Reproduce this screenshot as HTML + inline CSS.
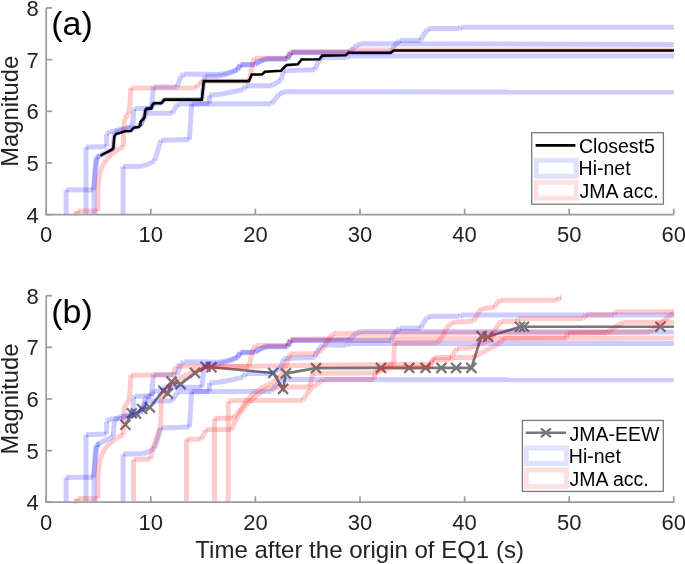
<!DOCTYPE html>
<html><head><meta charset="utf-8"><style>html,body{margin:0;padding:0;background:#fff;}svg{display:block;will-change:transform}.b{stroke:#00f;stroke-opacity:.2;stroke-width:5px}.r{stroke:#f00;stroke-opacity:.2;stroke-width:5px}</style></head><body>
<svg width="685" height="564" viewBox="0 0 685 564" font-family="Liberation Sans, sans-serif" fill="#000">
<rect width="685" height="564" fill="#fff"/>
<g fill="none" stroke-linejoin="miter" stroke-linecap="butt">
<path d="M66.1 214.7L66.1 189.9" class="b"/><path d="M66.1 189.9L93.4 189.9" class="b"/><path d="M93.4 189.9L94.8 178.0" class="b"/><path d="M94.8 178.0L96.0 166.0" class="b"/><path d="M96.0 166.0L97.3 157.5" class="b"/><path d="M97.3 157.5L100.5 155.2" class="b"/><path d="M100.5 155.2L106.0 152.4" class="b"/><path d="M106.0 152.4L111.0 150.2" class="b"/><path d="M111.0 150.2L113.3 148.4" class="b"/><path d="M113.3 148.4L113.9 137.0" class="b"/><path d="M113.9 137.0L115.5 131.5" class="b"/><path d="M115.5 131.5L118.0 129.2" class="b"/><path d="M118.0 129.2L124.0 129.0" class="b"/><path d="M124.0 129.0L126.0 127.5" class="b"/><path d="M126.0 127.5L131.0 127.3" class="b"/><path d="M131.0 127.3L133.0 124.0" class="b"/><path d="M133.0 124.0L133.5 110.0" class="b"/><path d="M133.5 110.0L134.5 108.5" class="b"/><path d="M134.5 108.5L151.0 108.5" class="b"/><path d="M151.0 108.5L152.0 102.5" class="b"/><path d="M152.0 102.5L153.5 87.0" class="b"/><path d="M153.5 87.0L176.7 87.0" class="b"/><path d="M176.7 87.0L178.2 84.0" class="b"/><path d="M178.2 84.0L181.0 76.0" class="b"/><path d="M181.0 76.0L183.8 74.2" class="b"/><path d="M183.8 74.2L205.7 74.2" class="b"/><path d="M205.7 74.2L218.8 74.5" class="b"/><path d="M218.8 74.5L228.2 72.7" class="b"/><path d="M228.2 72.7L237.6 69.5" class="b"/><path d="M237.6 69.5L240.4 64.5" class="b"/><path d="M240.4 64.5L255.0 64.2" class="b"/><path d="M255.0 64.2L258.0 62.0" class="b"/><path d="M258.0 62.0L262.0 60.0" class="b"/><path d="M262.0 60.0L266.0 58.6" class="b"/><path d="M266.0 58.6L287.5 58.6" class="b"/><path d="M287.5 58.6L291.0 52.2" class="b"/><path d="M291.0 52.2L349.0 52.2" class="b"/><path d="M349.0 52.2L353.0 48.6" class="b"/><path d="M353.0 48.6L357.0 45.0" class="b"/><path d="M357.0 45.0L361.3 43.8" class="b"/><path d="M361.3 43.8L673.9 44.4" class="b"/>
<path d="M94.1 214.7L94.1 188.5" class="b"/><path d="M94.1 188.5L94.4 178.0" class="b"/><path d="M94.4 178.0L95.2 166.0" class="b"/><path d="M95.2 166.0L96.0 157.5" class="b"/><path d="M96.0 157.5L99.5 155.6" class="b"/>
<path d="M86.0 214.7L86.0 147.2" class="b"/><path d="M86.0 147.2L106.6 146.5" class="b"/><path d="M106.6 146.5L106.6 134.0" class="b"/><path d="M106.6 134.0L110.0 131.5" class="b"/><path d="M110.0 131.5L121.5 131.0" class="b"/><path d="M121.5 131.0L125.0 129.0" class="b"/><path d="M125.0 129.0L134.0 128.0" class="b"/><path d="M134.0 128.0L140.0 125.0" class="b"/><path d="M140.0 125.0L142.5 121.0" class="b"/><path d="M142.5 121.0L145.0 116.0" class="b"/><path d="M145.0 116.0L146.0 113.3" class="b"/><path d="M146.0 113.3L172.5 113.3" class="b"/><path d="M172.5 113.3L174.0 109.6" class="b"/><path d="M174.0 109.6L176.7 105.4" class="b"/><path d="M176.7 105.4L178.2 104.0" class="b"/><path d="M178.2 104.0L271.5 103.7" class="b"/><path d="M271.5 103.7L279.0 94.3" class="b"/><path d="M279.0 94.3L283.7 91.8" class="b"/><path d="M283.7 91.8L673.9 92.1" class="b"/>
<path d="M123.1 214.7L123.1 166.4" class="b"/><path d="M123.1 166.4L142.9 166.2" class="b"/><path d="M142.9 166.2L150.0 163.5" class="b"/><path d="M150.0 163.5L154.0 161.0" class="b"/><path d="M154.0 161.0L156.0 157.0" class="b"/><path d="M156.0 157.0L158.0 150.0" class="b"/><path d="M158.0 150.0L159.5 144.0" class="b"/><path d="M159.5 144.0L161.0 140.3" class="b"/><path d="M161.0 140.3L189.5 139.5" class="b"/><path d="M189.5 139.5L191.6 104.0" class="b"/><path d="M191.6 104.0L209.4 103.5" class="b"/><path d="M209.4 103.5L209.4 95.2" class="b"/><path d="M209.4 95.2L220.7 94.3" class="b"/><path d="M220.7 94.3L232.0 92.0" class="b"/><path d="M232.0 92.0L243.3 89.6" class="b"/><path d="M243.3 89.6L246.0 85.8" class="b"/><path d="M246.0 85.8L271.5 85.8" class="b"/><path d="M271.5 85.8L274.3 84.0" class="b"/><path d="M274.3 84.0L280.9 80.2" class="b"/><path d="M280.9 80.2L283.7 70.8" class="b"/><path d="M283.7 70.8L314.7 69.8" class="b"/><path d="M314.7 69.8L317.5 63.3" class="b"/><path d="M317.5 63.3L322.5 57.0" class="b"/><path d="M322.5 57.0L346.0 57.8" class="b"/><path d="M346.0 57.8L349.0 55.9" class="b"/><path d="M349.0 55.9L673.9 55.9" class="b"/>
<path d="M140.0 126.0L143.4 119.0" class="b"/><path d="M143.4 119.0L145.3 110.5" class="b"/><path d="M145.3 110.5L146.6 108.6" class="b"/><path d="M146.6 108.6L151.3 108.6" class="b"/><path d="M151.3 108.6L152.6 104.6" class="b"/><path d="M152.6 104.6L153.9 103.3" class="b"/><path d="M153.9 103.3L161.5 103.3" class="b"/><path d="M161.5 103.3L164.3 99.6" class="b"/><path d="M164.3 99.6L201.9 99.6" class="b"/><path d="M201.9 99.6L203.8 81.0" class="b"/><path d="M203.8 81.0L205.0 76.2" class="b"/><path d="M205.0 76.2L218.8 76.2" class="b"/><path d="M218.8 76.2L228.2 73.8" class="b"/><path d="M228.2 73.8L237.6 70.0" class="b"/><path d="M237.6 70.0L240.4 65.0" class="b"/><path d="M240.4 65.0L255.0 64.8" class="b"/><path d="M255.0 64.8L258.0 62.6" class="b"/><path d="M258.0 62.6L262.0 60.6" class="b"/><path d="M262.0 60.6L266.0 59.2" class="b"/><path d="M266.0 59.2L287.5 59.2" class="b"/><path d="M287.5 59.2L291.0 52.8" class="b"/><path d="M291.0 52.8L349.0 52.8" class="b"/><path d="M349.0 52.8L391.0 52.8" class="b"/><path d="M391.0 52.8L394.0 46.0" class="b"/><path d="M394.0 46.0L400.0 40.4" class="b"/><path d="M400.0 40.4L420.6 40.4" class="b"/><path d="M420.6 40.4L422.6 36.3" class="b"/><path d="M422.6 36.3L427.7 29.2" class="b"/><path d="M427.7 29.2L429.0 28.5" class="b"/><path d="M429.0 28.5L459.2 28.5" class="b"/><path d="M459.2 28.5L461.1 27.2" class="b"/><path d="M461.1 27.2L673.9 27.2" class="b"/>
<path d="M73.5 213.6L77.6 213.6" class="r"/><path d="M77.6 213.6L77.6 211.0" class="r"/><path d="M77.6 211.0L98.0 211.0" class="r"/><path d="M98.0 211.0L98.1 186.0" class="r"/><path d="M98.1 186.0L99.5 174.0" class="r"/><path d="M99.5 174.0L102.2 166.0" class="r"/><path d="M102.2 166.0L106.0 160.0" class="r"/><path d="M106.0 160.0L110.0 155.5" class="r"/><path d="M110.0 155.5L115.0 151.5" class="r"/><path d="M115.0 151.5L120.0 148.5" class="r"/><path d="M120.0 148.5L123.4 147.0" class="r"/><path d="M123.4 147.0L123.5 130.0" class="r"/><path d="M123.5 130.0L124.6 118.5" class="r"/><path d="M124.6 118.5L128.6 114.0" class="r"/><path d="M128.6 114.0L130.0 103.3" class="r"/><path d="M130.0 103.3L130.8 88.0" class="r"/><path d="M130.8 88.0L196.3 88.0" class="r"/><path d="M196.3 88.0L198.1 84.5" class="r"/><path d="M198.1 84.5L202.8 81.3" class="r"/><path d="M202.8 81.3L249.0 81.3" class="r"/><path d="M249.0 81.3L250.8 72.7" class="r"/><path d="M250.8 72.7L253.0 62.0" class="r"/><path d="M253.0 62.0L254.5 58.2" class="r"/><path d="M254.5 58.2L286.5 58.2" class="r"/><path d="M286.5 58.2L290.0 53.0" class="r"/><path d="M290.0 53.0L292.2 51.8" class="r"/><path d="M292.2 51.8L348.5 51.8" class="r"/><path d="M348.5 51.8L350.5 50.0" class="r"/><path d="M350.5 50.0L673.9 50.0" class="r"/>
<path d="M100.4 155.6 L111.4 149.9 L113.3 148.6 L114.3 136.5 L115.9 134.0 L121.3 132.4 L124.8 131.2 L131.0 131.0 L132.8 128.6 L134.6 127.4 L139.0 127.0 L140.4 125.0 L140.6 121.8 L143.4 119.0 L144.6 116.6 L145.3 110.5 L146.6 108.6 L151.3 108.6 L152.6 104.6 L153.9 103.3 L161.5 103.3 L164.3 99.6 L201.9 99.6 L203.8 81.1 L248.9 81.1 L251.7 74.5 L262.0 74.5 L264.9 71.7 L280.9 70.8 L286.5 65.1 L297.8 64.2 L301.6 59.5 L319.4 59.3 L322.2 55.6 L345.7 55.3 L348.6 52.8 L390.9 52.8 L393.7 50.5 L673.9 50.5" stroke="#000" stroke-width="2.6"/>
</g>
<g fill="none" stroke-linejoin="miter" stroke-linecap="butt">
<path d="M125.4 424.8 L131.8 413.2 L136.0 413.5 L142.0 409.0 L149.8 407.4 L163.3 390.8 L167.9 393.5 L171.5 381.6 L180.6 384.1 L195.0 372.9 L205.5 366.8 L211.5 367.3 L273.2 373.0 L283.1 388.9 L285.9 373.4 L316.0 368.1 L381.0 367.9 L409.2 367.9 L425.6 367.9 L441.4 367.9 L456.2 367.9 L471.4 367.9 L481.5 336.0 L488.0 336.8 L520.0 326.8 L524.0 326.8 L660.4 326.8 L673.9 326.8" stroke="#777777" stroke-width="2.6"/>
<path d="M120.4 419.8 L130.4 429.8 M120.4 429.8 L130.4 419.8" stroke="#777777" stroke-width="2.2"/>
<path d="M126.8 408.2 L136.8 418.2 M126.8 418.2 L136.8 408.2" stroke="#777777" stroke-width="2.2"/>
<path d="M131.0 408.5 L141.0 418.5 M131.0 418.5 L141.0 408.5" stroke="#777777" stroke-width="2.2"/>
<path d="M137.0 404.0 L147.0 414.0 M137.0 414.0 L147.0 404.0" stroke="#777777" stroke-width="2.2"/>
<path d="M144.8 402.4 L154.8 412.4 M144.8 412.4 L154.8 402.4" stroke="#777777" stroke-width="2.2"/>
<path d="M158.3 385.8 L168.3 395.8 M158.3 395.8 L168.3 385.8" stroke="#777777" stroke-width="2.2"/>
<path d="M162.9 388.5 L172.9 398.5 M162.9 398.5 L172.9 388.5" stroke="#777777" stroke-width="2.2"/>
<path d="M166.5 376.6 L176.5 386.6 M166.5 386.6 L176.5 376.6" stroke="#777777" stroke-width="2.2"/>
<path d="M175.6 379.1 L185.6 389.1 M175.6 389.1 L185.6 379.1" stroke="#777777" stroke-width="2.2"/>
<path d="M190.0 367.9 L200.0 377.9 M190.0 377.9 L200.0 367.9" stroke="#777777" stroke-width="2.2"/>
<path d="M200.5 361.8 L210.5 371.8 M200.5 371.8 L210.5 361.8" stroke="#777777" stroke-width="2.2"/>
<path d="M206.5 362.3 L216.5 372.3 M206.5 372.3 L216.5 362.3" stroke="#777777" stroke-width="2.2"/>
<path d="M268.2 368.0 L278.2 378.0 M268.2 378.0 L278.2 368.0" stroke="#777777" stroke-width="2.2"/>
<path d="M278.1 383.9 L288.1 393.9 M278.1 393.9 L288.1 383.9" stroke="#777777" stroke-width="2.2"/>
<path d="M280.9 368.4 L290.9 378.4 M280.9 378.4 L290.9 368.4" stroke="#777777" stroke-width="2.2"/>
<path d="M311.0 363.1 L321.0 373.1 M311.0 373.1 L321.0 363.1" stroke="#777777" stroke-width="2.2"/>
<path d="M376.0 362.9 L386.0 372.9 M376.0 372.9 L386.0 362.9" stroke="#777777" stroke-width="2.2"/>
<path d="M404.2 362.9 L414.2 372.9 M404.2 372.9 L414.2 362.9" stroke="#777777" stroke-width="2.2"/>
<path d="M420.6 362.9 L430.6 372.9 M420.6 372.9 L430.6 362.9" stroke="#777777" stroke-width="2.2"/>
<path d="M436.4 362.9 L446.4 372.9 M436.4 372.9 L446.4 362.9" stroke="#777777" stroke-width="2.2"/>
<path d="M451.2 362.9 L461.2 372.9 M451.2 372.9 L461.2 362.9" stroke="#777777" stroke-width="2.2"/>
<path d="M466.4 362.9 L476.4 372.9 M466.4 372.9 L476.4 362.9" stroke="#777777" stroke-width="2.2"/>
<path d="M476.5 331.0 L486.5 341.0 M476.5 341.0 L486.5 331.0" stroke="#777777" stroke-width="2.2"/>
<path d="M483.0 331.8 L493.0 341.8 M483.0 341.8 L493.0 331.8" stroke="#777777" stroke-width="2.2"/>
<path d="M515.0 321.8 L525.0 331.8 M515.0 331.8 L525.0 321.8" stroke="#777777" stroke-width="2.2"/>
<path d="M519.0 321.8 L529.0 331.8 M519.0 331.8 L529.0 321.8" stroke="#777777" stroke-width="2.2"/>
<path d="M655.4 321.8 L665.4 331.8 M655.4 331.8 L665.4 321.8" stroke="#777777" stroke-width="2.2"/>
<path d="M66.1 502.2L66.1 477.4" class="b"/><path d="M66.1 477.4L93.4 477.4" class="b"/><path d="M93.4 477.4L94.8 465.6" class="b"/><path d="M94.8 465.6L96.0 453.6" class="b"/><path d="M96.0 453.6L97.3 445.1" class="b"/><path d="M97.3 445.1L100.5 442.8" class="b"/><path d="M100.5 442.8L106.0 440.0" class="b"/><path d="M106.0 440.0L111.0 437.8" class="b"/><path d="M111.0 437.8L113.3 436.0" class="b"/><path d="M113.3 436.0L113.9 424.6" class="b"/><path d="M113.9 424.6L115.5 419.1" class="b"/><path d="M115.5 419.1L118.0 416.8" class="b"/><path d="M118.0 416.8L124.0 416.6" class="b"/><path d="M124.0 416.6L126.0 415.1" class="b"/><path d="M126.0 415.1L131.0 414.9" class="b"/><path d="M131.0 414.9L133.0 411.6" class="b"/><path d="M133.0 411.6L133.5 397.7" class="b"/><path d="M133.5 397.7L134.5 396.2" class="b"/><path d="M134.5 396.2L151.0 396.2" class="b"/><path d="M151.0 396.2L152.0 390.2" class="b"/><path d="M152.0 390.2L153.5 374.7" class="b"/><path d="M153.5 374.7L176.7 374.7" class="b"/><path d="M176.7 374.7L178.2 371.7" class="b"/><path d="M178.2 371.7L181.0 363.7" class="b"/><path d="M181.0 363.7L183.8 361.9" class="b"/><path d="M183.8 361.9L205.7 361.9" class="b"/><path d="M205.7 361.9L218.8 362.2" class="b"/><path d="M218.8 362.2L228.2 360.4" class="b"/><path d="M228.2 360.4L237.6 357.2" class="b"/><path d="M237.6 357.2L240.4 352.2" class="b"/><path d="M240.4 352.2L255.0 351.9" class="b"/><path d="M255.0 351.9L258.0 349.7" class="b"/><path d="M258.0 349.7L262.0 347.7" class="b"/><path d="M262.0 347.7L266.0 346.3" class="b"/><path d="M266.0 346.3L287.5 346.3" class="b"/><path d="M287.5 346.3L291.0 339.9" class="b"/><path d="M291.0 339.9L349.0 339.9" class="b"/><path d="M349.0 339.9L353.0 336.3" class="b"/><path d="M353.0 336.3L357.0 332.7" class="b"/><path d="M357.0 332.7L361.3 331.5" class="b"/><path d="M361.3 331.5L673.9 332.1" class="b"/>
<path d="M94.1 502.2L94.1 476.0" class="b"/><path d="M94.1 476.0L94.4 465.6" class="b"/><path d="M94.4 465.6L95.2 453.6" class="b"/><path d="M95.2 453.6L96.0 445.1" class="b"/><path d="M96.0 445.1L99.5 443.2" class="b"/>
<path d="M86.0 502.2L86.0 434.8" class="b"/><path d="M86.0 434.8L106.6 434.1" class="b"/><path d="M106.6 434.1L106.6 421.6" class="b"/><path d="M106.6 421.6L110.0 419.1" class="b"/><path d="M110.0 419.1L121.5 418.6" class="b"/><path d="M121.5 418.6L125.0 416.6" class="b"/><path d="M125.0 416.6L134.0 415.6" class="b"/><path d="M134.0 415.6L140.0 412.6" class="b"/><path d="M140.0 412.6L142.5 408.6" class="b"/><path d="M142.5 408.6L145.0 403.6" class="b"/><path d="M145.0 403.6L146.0 400.9" class="b"/><path d="M146.0 400.9L172.5 400.9" class="b"/><path d="M172.5 400.9L174.0 397.3" class="b"/><path d="M174.0 397.3L176.7 393.1" class="b"/><path d="M176.7 393.1L178.2 391.7" class="b"/><path d="M178.2 391.7L271.5 391.4" class="b"/><path d="M271.5 391.4L279.0 382.0" class="b"/><path d="M279.0 382.0L283.7 379.5" class="b"/><path d="M283.7 379.5L673.9 379.8" class="b"/>
<path d="M123.1 502.2L123.1 454.0" class="b"/><path d="M123.1 454.0L142.9 453.8" class="b"/><path d="M142.9 453.8L150.0 451.1" class="b"/><path d="M150.0 451.1L154.0 448.6" class="b"/><path d="M154.0 448.6L156.0 444.6" class="b"/><path d="M156.0 444.6L158.0 437.6" class="b"/><path d="M158.0 437.6L159.5 431.6" class="b"/><path d="M159.5 431.6L161.0 427.9" class="b"/><path d="M161.0 427.9L189.5 427.1" class="b"/><path d="M189.5 427.1L191.6 391.7" class="b"/><path d="M191.6 391.7L209.4 391.2" class="b"/><path d="M209.4 391.2L209.4 382.9" class="b"/><path d="M209.4 382.9L220.7 382.0" class="b"/><path d="M220.7 382.0L232.0 379.7" class="b"/><path d="M232.0 379.7L243.3 377.3" class="b"/><path d="M243.3 377.3L246.0 373.5" class="b"/><path d="M246.0 373.5L271.5 373.5" class="b"/><path d="M271.5 373.5L274.3 371.7" class="b"/><path d="M274.3 371.7L280.9 367.9" class="b"/><path d="M280.9 367.9L283.7 358.5" class="b"/><path d="M283.7 358.5L314.7 357.5" class="b"/><path d="M314.7 357.5L317.5 351.0" class="b"/><path d="M317.5 351.0L322.5 344.7" class="b"/><path d="M322.5 344.7L346.0 345.5" class="b"/><path d="M346.0 345.5L349.0 343.6" class="b"/><path d="M349.0 343.6L673.9 343.6" class="b"/>
<path d="M140.0 413.6L143.4 406.6" class="b"/><path d="M143.4 406.6L145.3 398.2" class="b"/><path d="M145.3 398.2L146.6 396.3" class="b"/><path d="M146.6 396.3L151.3 396.3" class="b"/><path d="M151.3 396.3L152.6 392.3" class="b"/><path d="M152.6 392.3L153.9 391.0" class="b"/><path d="M153.9 391.0L161.5 391.0" class="b"/><path d="M161.5 391.0L164.3 387.3" class="b"/><path d="M164.3 387.3L201.9 387.3" class="b"/><path d="M201.9 387.3L203.8 368.7" class="b"/><path d="M203.8 368.7L205.0 363.9" class="b"/><path d="M205.0 363.9L218.8 363.9" class="b"/><path d="M218.8 363.9L228.2 361.5" class="b"/><path d="M228.2 361.5L237.6 357.7" class="b"/><path d="M237.6 357.7L240.4 352.7" class="b"/><path d="M240.4 352.7L255.0 352.5" class="b"/><path d="M255.0 352.5L258.0 350.3" class="b"/><path d="M258.0 350.3L262.0 348.3" class="b"/><path d="M262.0 348.3L266.0 346.9" class="b"/><path d="M266.0 346.9L287.5 346.9" class="b"/><path d="M287.5 346.9L291.0 340.5" class="b"/><path d="M291.0 340.5L349.0 340.5" class="b"/><path d="M349.0 340.5L391.0 340.5" class="b"/><path d="M391.0 340.5L394.0 333.7" class="b"/><path d="M394.0 333.7L400.0 328.2" class="b"/><path d="M400.0 328.2L420.6 328.2" class="b"/><path d="M420.6 328.2L422.6 324.1" class="b"/><path d="M422.6 324.1L427.7 317.0" class="b"/><path d="M427.7 317.0L429.0 316.3" class="b"/><path d="M429.0 316.3L459.2 316.3" class="b"/><path d="M459.2 316.3L461.1 315.0" class="b"/><path d="M461.1 315.0L673.9 315.0" class="b"/>
<path d="M73.5 501.1L77.6 501.1" class="r"/><path d="M77.6 501.1L77.6 498.5" class="r"/><path d="M77.6 498.5L98.0 498.5" class="r"/><path d="M98.0 498.5L98.1 473.6" class="r"/><path d="M98.1 473.6L99.5 461.6" class="r"/><path d="M99.5 461.6L102.2 453.6" class="r"/><path d="M102.2 453.6L106.0 447.6" class="r"/><path d="M106.0 447.6L110.0 443.1" class="r"/><path d="M110.0 443.1L115.0 439.1" class="r"/><path d="M115.0 439.1L120.0 436.1" class="r"/><path d="M120.0 436.1L123.4 434.6" class="r"/><path d="M123.4 434.6L123.5 417.6" class="r"/><path d="M123.5 417.6L124.6 406.0" class="r"/><path d="M124.6 406.0L128.6 401.6" class="r"/><path d="M128.6 401.6L130.0 391.0" class="r"/><path d="M130.0 391.0L130.8 375.3" class="r"/><path d="M130.8 375.3L173.4 375.0" class="r"/><path d="M173.4 375.0L175.8 366.3" class="r"/><path d="M175.8 366.3L249.0 366.5" class="r"/><path d="M249.0 366.5L250.5 360.0" class="r"/><path d="M250.5 360.0L252.0 352.0" class="r"/><path d="M252.0 352.0L255.5 345.5" class="r"/><path d="M255.5 345.5L287.0 345.5" class="r"/><path d="M287.0 345.5L290.0 339.5" class="r"/><path d="M290.0 339.5L324.0 339.0" class="r"/><path d="M324.0 339.0L673.9 338.0" class="r"/>
<path d="M133.5 502.2L133.5 459.3" class="r"/><path d="M133.5 459.3L150.3 459.3" class="r"/><path d="M150.3 459.3L152.4 450.2" class="r"/><path d="M152.4 450.2L155.2 441.8" class="r"/><path d="M155.2 441.8L157.3 436.2" class="r"/><path d="M157.3 436.2L159.4 429.2" class="r"/><path d="M159.4 429.2L160.8 425.0" class="r"/><path d="M160.8 425.0L161.2 402.0" class="r"/><path d="M161.2 402.0L162.2 394.0" class="r"/><path d="M162.2 394.0L166.0 390.0" class="r"/><path d="M166.0 390.0L172.0 384.0" class="r"/><path d="M172.0 384.0L180.0 378.0" class="r"/><path d="M180.0 378.0L190.0 373.5" class="r"/><path d="M190.0 373.5L200.0 369.5" class="r"/><path d="M200.0 369.5L206.0 367.0" class="r"/><path d="M206.0 367.0L250.0 366.3" class="r"/><path d="M250.0 366.3L300.0 365.5" class="r"/><path d="M300.0 365.5L393.5 364.5" class="r"/><path d="M393.5 364.5L394.5 343.0" class="r"/><path d="M394.5 343.0L437.0 343.0" class="r"/><path d="M437.0 343.0L439.4 340.9" class="r"/><path d="M439.4 340.9L443.8 333.6" class="r"/><path d="M443.8 333.6L446.7 327.7" class="r"/><path d="M446.7 327.7L451.0 323.4" class="r"/><path d="M451.0 323.4L455.5 321.9" class="r"/><path d="M455.5 321.9L473.0 321.2" class="r"/><path d="M473.0 321.2L475.9 317.5" class="r"/><path d="M475.9 317.5L478.8 311.7" class="r"/><path d="M478.8 311.7L481.8 308.8" class="r"/><path d="M481.8 308.8L494.9 307.3" class="r"/><path d="M494.9 307.3L497.0 302.0" class="r"/><path d="M497.0 302.0L500.0 300.2" class="r"/><path d="M500.0 300.2L557.2 300.2" class="r"/><path d="M557.2 300.2L560.0 297.3" class="r"/><path d="M560.0 297.3L561.5 297.3" class="r"/>
<path d="M186.5 502.2L186.5 439.3" class="r"/><path d="M186.5 439.3L200.9 439.3" class="r"/><path d="M200.9 439.3L205.7 431.0" class="r"/><path d="M205.7 431.0L205.7 429.6" class="r"/><path d="M205.7 429.6L231.4 429.6" class="r"/><path d="M231.4 429.6L234.0 424.0" class="r"/><path d="M234.0 424.0L237.0 418.0" class="r"/><path d="M237.0 418.0L242.0 410.0" class="r"/><path d="M242.0 410.0L247.0 404.0" class="r"/><path d="M247.0 404.0L252.5 399.0" class="r"/><path d="M252.5 399.0L258.0 394.5" class="r"/><path d="M258.0 394.5L264.0 390.0" class="r"/><path d="M264.0 390.0L272.0 387.3" class="r"/><path d="M272.0 387.3L309.9 387.0" class="r"/><path d="M309.9 387.0L311.0 380.0" class="r"/><path d="M311.0 380.0L313.0 373.3" class="r"/><path d="M313.0 373.3L374.0 373.1" class="r"/><path d="M374.0 373.1L380.0 369.0" class="r"/><path d="M380.0 369.0L388.0 365.0" class="r"/><path d="M388.0 365.0L395.0 364.3" class="r"/><path d="M395.0 364.3L430.7 364.3" class="r"/><path d="M430.7 364.3L434.0 357.5" class="r"/><path d="M434.0 357.5L451.0 357.5" class="r"/><path d="M451.0 357.5L457.0 348.2" class="r"/><path d="M457.0 348.2L470.0 348.2" class="r"/><path d="M470.0 348.2L480.0 344.0" class="r"/><path d="M480.0 344.0L490.0 340.0" class="r"/><path d="M490.0 340.0L494.0 333.0" class="r"/><path d="M494.0 333.0L497.0 326.0" class="r"/><path d="M497.0 326.0L501.7 321.4" class="r"/><path d="M501.7 321.4L517.0 321.4" class="r"/><path d="M517.0 321.4L518.5 318.6" class="r"/><path d="M518.5 318.6L583.0 318.6" class="r"/><path d="M583.0 318.6L586.0 315.0" class="r"/><path d="M586.0 315.0L590.0 314.7" class="r"/><path d="M590.0 314.7L614.0 314.7" class="r"/><path d="M614.0 314.7L615.0 311.7" class="r"/><path d="M615.0 311.7L673.9 311.7" class="r"/>
<path d="M214.5 502.2L214.5 418.3" class="r"/><path d="M214.5 418.3L233.0 418.3" class="r"/><path d="M233.0 418.3L236.5 414.0" class="r"/><path d="M236.5 414.0L240.5 410.0" class="r"/><path d="M240.5 410.0L244.0 404.0" class="r"/><path d="M244.0 404.0L248.0 399.0" class="r"/><path d="M248.0 399.0L253.0 394.0" class="r"/><path d="M253.0 394.0L258.0 390.0" class="r"/><path d="M258.0 390.0L264.0 386.5" class="r"/><path d="M264.0 386.5L270.0 384.0" class="r"/><path d="M270.0 384.0L275.0 381.0" class="r"/><path d="M275.0 381.0L280.0 377.0" class="r"/><path d="M280.0 377.0L283.0 371.0" class="r"/><path d="M283.0 371.0L286.0 366.0" class="r"/><path d="M286.0 366.0L288.0 360.0" class="r"/><path d="M288.0 360.0L290.0 354.0" class="r"/><path d="M290.0 354.0L315.0 353.8" class="r"/><path d="M315.0 353.8L322.0 350.0" class="r"/><path d="M322.0 350.0L327.0 342.0" class="r"/><path d="M327.0 342.0L333.0 333.5" class="r"/><path d="M333.0 333.5L607.0 332.5" class="r"/><path d="M607.0 332.5L615.0 327.0" class="r"/><path d="M615.0 327.0L623.0 322.3" class="r"/><path d="M623.0 322.3L673.9 322.3" class="r"/>
<path d="M228.2 502.2L228.2 401.5" class="r"/><path d="M228.2 401.5L233.0 400.5" class="r"/><path d="M233.0 400.5L302.9 400.5" class="r"/><path d="M302.9 400.5L306.4 394.7" class="r"/><path d="M306.4 394.7L309.9 390.0" class="r"/><path d="M309.9 390.0L315.0 385.0" class="r"/><path d="M315.0 385.0L320.4 381.9" class="r"/><path d="M320.4 381.9L322.8 379.5" class="r"/><path d="M322.8 379.5L374.0 379.5" class="r"/><path d="M374.0 379.5L375.5 373.0" class="r"/><path d="M375.5 373.0L388.0 368.0" class="r"/><path d="M388.0 368.0L395.0 367.5" class="r"/><path d="M395.0 367.5L430.0 367.5" class="r"/><path d="M430.0 367.5L432.0 359.8" class="r"/><path d="M432.0 359.8L451.0 359.8" class="r"/><path d="M451.0 359.8L454.0 357.5" class="r"/><path d="M454.0 357.5L473.0 357.5" class="r"/><path d="M473.0 357.5L480.0 353.5" class="r"/><path d="M480.0 353.5L490.0 348.5" class="r"/><path d="M490.0 348.5L500.0 343.0" class="r"/><path d="M500.0 343.0L503.0 338.0" class="r"/><path d="M503.0 338.0L566.0 338.0" class="r"/><path d="M566.0 338.0L568.0 333.0" class="r"/><path d="M568.0 333.0L650.0 332.0" class="r"/><path d="M650.0 332.0L662.0 322.0" class="r"/><path d="M662.0 322.0L673.9 313.0" class="r"/>
</g>
<g stroke="#9c9c9c" stroke-width="1.7" fill="none">
<line x1="46.20" y1="214.7" x2="46.20" y2="208.7" />
<line x1="150.80" y1="214.7" x2="150.80" y2="208.7" />
<line x1="255.40" y1="214.7" x2="255.40" y2="208.7" />
<line x1="360.00" y1="214.7" x2="360.00" y2="208.7" />
<line x1="464.60" y1="214.7" x2="464.60" y2="208.7" />
<line x1="569.20" y1="214.7" x2="569.20" y2="208.7" />
<line x1="673.80" y1="214.7" x2="673.80" y2="208.7" />
<line x1="46.2" y1="214.70" x2="52.2" y2="214.70" />
<line x1="46.2" y1="163.00" x2="52.2" y2="163.00" />
<line x1="46.2" y1="111.30" x2="52.2" y2="111.30" />
<line x1="46.2" y1="59.60" x2="52.2" y2="59.60" />
<line x1="46.2" y1="7.90" x2="52.2" y2="7.90" />
<path d="M46.2 7.9 V214.7 H673.80" fill="none"/>
<line x1="46.20" y1="502.2" x2="46.20" y2="496.2" />
<line x1="150.80" y1="502.2" x2="150.80" y2="496.2" />
<line x1="255.40" y1="502.2" x2="255.40" y2="496.2" />
<line x1="360.00" y1="502.2" x2="360.00" y2="496.2" />
<line x1="464.60" y1="502.2" x2="464.60" y2="496.2" />
<line x1="569.20" y1="502.2" x2="569.20" y2="496.2" />
<line x1="673.80" y1="502.2" x2="673.80" y2="496.2" />
<line x1="46.2" y1="502.20" x2="52.2" y2="502.20" />
<line x1="46.2" y1="450.57" x2="52.2" y2="450.57" />
<line x1="46.2" y1="398.95" x2="52.2" y2="398.95" />
<line x1="46.2" y1="347.32" x2="52.2" y2="347.32" />
<line x1="46.2" y1="295.70" x2="52.2" y2="295.70" />
<path d="M46.2 295.7 V502.2 H673.80" fill="none"/>
</g>
<g fill="#222">
<text x="46.20" y="242.20" text-anchor="middle" font-size="22">0</text>
<text x="150.80" y="242.20" text-anchor="middle" font-size="22">10</text>
<text x="255.40" y="242.20" text-anchor="middle" font-size="22">20</text>
<text x="360.00" y="242.20" text-anchor="middle" font-size="22">30</text>
<text x="464.60" y="242.20" text-anchor="middle" font-size="22">40</text>
<text x="569.20" y="242.20" text-anchor="middle" font-size="22">50</text>
<text x="673.80" y="242.20" text-anchor="middle" font-size="22">60</text>
<text x="38.70" y="222.70" text-anchor="end" font-size="22">4</text>
<text x="38.70" y="171.00" text-anchor="end" font-size="22">5</text>
<text x="38.70" y="119.30" text-anchor="end" font-size="22">6</text>
<text x="38.70" y="67.60" text-anchor="end" font-size="22">7</text>
<text x="38.70" y="15.90" text-anchor="end" font-size="22">8</text>
<text x="46.20" y="529.70" text-anchor="middle" font-size="22">0</text>
<text x="150.80" y="529.70" text-anchor="middle" font-size="22">10</text>
<text x="255.40" y="529.70" text-anchor="middle" font-size="22">20</text>
<text x="360.00" y="529.70" text-anchor="middle" font-size="22">30</text>
<text x="464.60" y="529.70" text-anchor="middle" font-size="22">40</text>
<text x="569.20" y="529.70" text-anchor="middle" font-size="22">50</text>
<text x="673.80" y="529.70" text-anchor="middle" font-size="22">60</text>
<text x="38.70" y="510.20" text-anchor="end" font-size="22">4</text>
<text x="38.70" y="458.57" text-anchor="end" font-size="22">5</text>
<text x="38.70" y="406.95" text-anchor="end" font-size="22">6</text>
<text x="38.70" y="355.32" text-anchor="end" font-size="22">7</text>
<text x="38.70" y="303.70" text-anchor="end" font-size="22">8</text>
</g>
<text x="51.2" y="35.2" font-size="34">(a)</text>
<text x="51.2" y="323.1" font-size="34">(b)</text>
<text transform="translate(17.5 111.3) rotate(-90)" text-anchor="middle" font-size="23.8" fill="#222">Magnitude</text>
<text transform="translate(17.5 399) rotate(-90)" text-anchor="middle" font-size="23.8" fill="#222">Magnitude</text>
<text x="359.6" y="557.6" text-anchor="middle" font-size="24" fill="#222">Time after the origin of EQ1 (s)</text>
<rect x="531.7" y="132.7" width="131.7" height="71.5" fill="#fff" stroke="#787878" stroke-width="1.3"/>
<line x1="535.6" y1="145.3" x2="575.4" y2="145.3" stroke="#000" stroke-width="2.8"/>
<rect x="536.2" y="160.3" width="39.9" height="15.9" fill="none" stroke="#00f" stroke-opacity="0.12" stroke-width="5"/>
<rect x="536.2" y="182.3" width="39.9" height="15.9" fill="none" stroke="#f00" stroke-opacity="0.12" stroke-width="5"/>
<text x="579" y="152.8" font-size="19.5">Closest5</text>
<text x="578.6" y="175.2" font-size="19.5">Hi-net</text>
<text x="579.5" y="198" font-size="19.5">JMA acc.</text>
<rect x="522.4" y="420.4" width="140.9" height="71" fill="#fff" stroke="#787878" stroke-width="1.3"/>
<line x1="525.6" y1="432.7" x2="566.1" y2="432.7" stroke="#777777" stroke-width="2.6"/>
<path d="M541 428.3 L550.8 437.1 M541 437.1 L550.8 428.3" stroke="#777777" stroke-width="2.4"/>
<rect x="526.3" y="448" width="40.1" height="15.6" fill="none" stroke="#00f" stroke-opacity="0.12" stroke-width="5"/>
<rect x="526.3" y="470" width="40.1" height="16.6" fill="none" stroke="#f00" stroke-opacity="0.12" stroke-width="5"/>
<text x="569.6" y="440.6" font-size="19.5">JMA-EEW</text>
<text x="568.8" y="462.5" font-size="19.5">Hi-net</text>
<text x="569.6" y="485.7" font-size="19.5">JMA acc.</text>
</svg>
</body></html>
